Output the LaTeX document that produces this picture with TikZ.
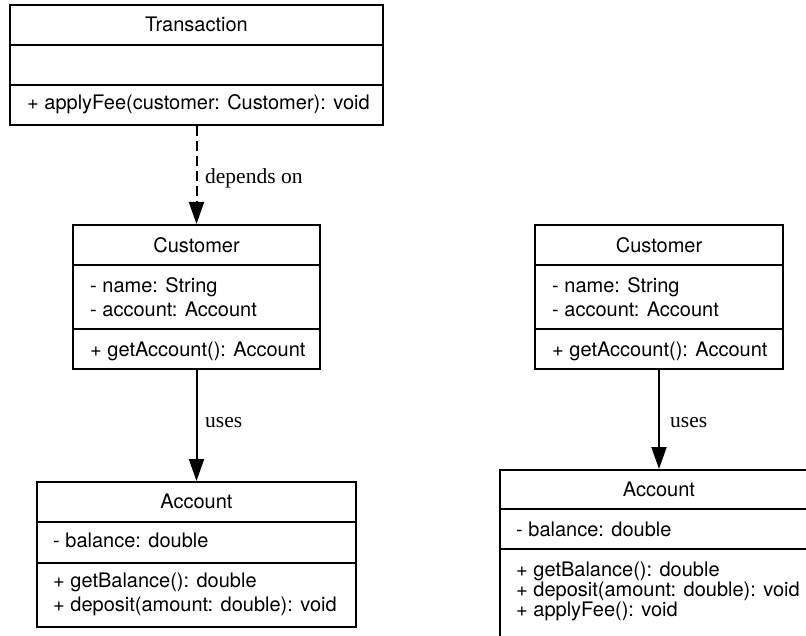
\documentclass[tikz,border=0pt]{standalone}
\usepackage{fontspec}
\setmainfont{Liberation Serif}
\newfontfamily\boxfont{TeX Gyre Heros}
\usetikzlibrary{arrows.meta}
\begin{document}
\begin{tikzpicture}[x=1pt,y=-1pt,
  classbox/.style={draw, line width=2pt, rectangle, inner sep=0pt},
  divider/.style={line width=2pt},
  member/.style={inner sep=0pt, anchor=base west, font=\boxfont\fontsize{20}{23}\selectfont},
  classname/.style={inner sep=0pt, anchor=base, font=\boxfont\fontsize{20}{23}\selectfont},
  edgelabel/.style={inner sep=0pt, anchor=base west, font=\fontsize{21.5}{25}\selectfont},
  conn/.style={line width=2pt, -{Triangle[length=22pt,width=15pt]}},
  depconn/.style={conn, dash pattern=on 10pt off 5pt}]
\useasboundingbox (0,0) rectangle (806,636);
\clip (0,0) rectangle (806,636);

% Transaction
\node[classbox, minimum width=373pt, minimum height=120pt] (trans) at (196.5,65) {};
\draw[divider] (10,45) -- (383,45);
\draw[divider] (10,85) -- (383,85);
\node[classname] (transname) at (196.5,31.5) {Transaction};
\node[member] (transm1) at (27,110) {+ applyFee(customer: Customer): void};

% Customer (left)
\node[classbox, minimum width=247pt, minimum height=144pt] (custA) at (196.5,297) {};
\draw[divider] (73,265) -- (320,265);
\draw[divider] (73,329) -- (320,329);
\node[classname] (custAname) at (196.5,252.5) {Customer};
\node[member] (custAa1) at (90,292.7) {- name: String};
\node[member] (custAa2) at (90,316.7) {- account: Account};
\node[member] (custAm1) at (90,356.5) {+ getAccount(): Account};

% Account (left)
\node[classbox, minimum width=319pt, minimum height=145pt] (accA) at (196.5,554.5) {};
\draw[divider] (37,522) -- (356,522);
\draw[divider] (37,563) -- (356,563);
\node[classname] (accAname) at (196.5,508) {Account};
\node[member] (accAa1) at (53,547.7) {- balance: double};
\node[member] (accAm1) at (53,587) {+ getBalance(): double};
\node[member] (accAm2) at (53,611.5) {+ deposit(amount: double): void};

% Customer (right)
\node[classbox, minimum width=248pt, minimum height=144pt] (custB) at (659,297) {};
\draw[divider] (535,265) -- (783,265);
\draw[divider] (535,329) -- (783,329);
\node[classname] (custBname) at (659,252.5) {Customer};
\node[member] (custBa1) at (552,292.7) {- name: String};
\node[member] (custBa2) at (552,316.7) {- account: Account};
\node[member] (custBm1) at (552,356.5) {+ getAccount(): Account};

% Account (right), extends past the page edge
\node[classbox, minimum width=318pt, minimum height=172pt] (accB) at (659,556) {};
\draw[divider] (500,509) -- (818,509);
\draw[divider] (500,549) -- (818,549);
\node[classname] (accBname) at (659,496) {Account};
\node[member] (accBa1) at (516,536) {- balance: double};
\node[member] (accBm1) at (516,576) {+ getBalance(): double};
\node[member] (accBm2) at (516,596) {+ deposit(amount: double): void};
\node[member] (accBm3) at (516,616) {+ applyFee(): void};

% Relationships
\draw[depconn] (trans.south) -- (custA.north);
\node[edgelabel] (deplabel) at (205,184) {depends on};
\draw[conn] (custA.south) -- (accA.north);
\node[edgelabel] (useslabelA) at (205,427) {uses};
\draw[conn] (custB.south) -- (accB.north);
\node[edgelabel] (useslabelB) at (670,427) {uses};
\end{tikzpicture}
\end{document}
